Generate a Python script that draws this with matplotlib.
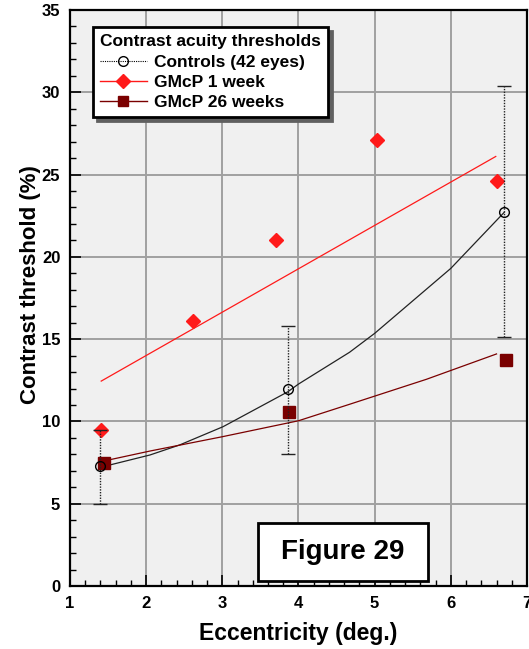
import numpy as np
import matplotlib
matplotlib.use('Agg')
import matplotlib.pyplot as plt
from matplotlib.lines import Line2D
from matplotlib.patches import Rectangle
from matplotlib.ticker import MultipleLocator

plt.rcParams['font.family'] = ['Liberation Sans', 'DejaVu Sans']
plt.rcParams['font.weight'] = 'bold'

# controls (42 eyes): mean and error bar limits
ctrl_x = [1.39, 3.86, 6.70]
ctrl_y = [7.3, 11.95, 22.7]
ctrl_lo = [5.0, 8.0, 15.1]
ctrl_hi = [9.5, 15.8, 30.4]

# GMcP 1 week
wk1_x = [1.41, 2.62, 3.70, 5.03, 6.60]
wk1_y = [9.5, 16.1, 21.0, 27.1, 24.6]

# GMcP 26 weeks
wk26_x = [1.45, 3.87, 6.72]
wk26_y = [7.5, 10.55, 13.75]

# fitted curves
fit_ctrl_x = [1.39, 2.05, 2.44, 3.01, 3.86, 4.0, 4.67, 5.0, 6.0, 6.70]
fit_ctrl_y = [7.2, 7.96, 8.57, 9.68, 11.8, 12.27, 14.2, 15.35, 19.3, 22.7]
fit_wk1_x = [1.41, 6.59]
fit_wk1_y = [12.45, 26.1]
fit_wk26_x = [1.45, 2.05, 3.0, 4.0, 4.67, 5.68, 6.60]
fit_wk26_y = [7.6, 8.2, 9.07, 10.04, 11.04, 12.56, 14.1]

red = '#ff1a1a'
dred = '#7a0000'

fig = plt.figure(figsize=(5.29, 6.49), dpi=100)
ax = fig.add_axes([0.1323, 0.0971, 0.8639, 0.8875])
ax.set_facecolor('#f0f0f0')

ax.set_xlim(1, 7)
ax.set_ylim(0, 35)
ax.xaxis.set_major_locator(MultipleLocator(1))
ax.xaxis.set_minor_locator(MultipleLocator(0.2))
ax.yaxis.set_major_locator(MultipleLocator(5))
ax.yaxis.set_minor_locator(MultipleLocator(1))
ax.grid(True, which='major', color='#a0a0a0', lw=1.4, zorder=0)
ax.set_axisbelow(True)
ax.tick_params(which='major', direction='in', length=8, width=1.2, labelsize=12, pad=7)
ax.tick_params(which='minor', direction='in', length=4, width=1)
for lab in ax.get_xticklabels() + ax.get_yticklabels():
    lab.set_fontweight('bold')
for s in ax.spines.values():
    s.set_linewidth(1.6)
    s.set_color('black')

# fits
ax.plot(fit_ctrl_x, fit_ctrl_y, color='#222222', lw=0.9, zorder=3)
ax.plot(fit_wk1_x, fit_wk1_y, color=red, lw=0.9, zorder=3)
ax.plot(fit_wk26_x, fit_wk26_y, color=dred, lw=0.9, zorder=3)

ax.plot(wk1_x, wk1_y, 'D', color=red, ms=7.5, zorder=4)
ax.plot(wk26_x, wk26_y, 's', color=dred, ms=8, zorder=4)

# controls with error bars (drawn over the other markers)
yerr = [np.array(ctrl_y) - np.array(ctrl_lo), np.array(ctrl_hi) - np.array(ctrl_y)]
eb = ax.errorbar(ctrl_x, ctrl_y, yerr=yerr, fmt='o', mfc='none', mec='black', ms=7,
                 mew=1.0, ecolor='#222222', elinewidth=1.0, capsize=5, capthick=1.3, zorder=5)
eb[2][0].set_linestyle((0, (1, 1)))

ax.set_xlabel('Eccentricity (deg.)', fontsize=16.5, fontweight='bold', labelpad=8)
ax.set_ylabel('Contrast threshold (%)', fontsize=16, fontweight='bold')
ax.yaxis.set_label_coords(-0.063, 0.524)

handles = [
    Line2D([], [], color='black', lw=0.8, ls=(0, (1, 1)), marker='o', mfc='none', mec='black', ms=7),
    Line2D([], [], color=red, lw=1.0, marker='D', ms=7.5),
    Line2D([], [], color=dred, lw=1.0, marker='s', ms=7.5),
]
labels = ['Controls (42 eyes)', 'GMcP 1 week', 'GMcP 26 weeks']
leg = ax.legend(handles, labels, title='Contrast acuity thresholds', loc='upper left',
                bbox_to_anchor=(0.05, 0.97), borderaxespad=0, fancybox=False,
                shadow={'color': '#606060', 'alpha': 1, 'ox': 3, 'oy': -3},
                framealpha=1, edgecolor='black', handlelength=2.7, handletextpad=0.4,
                labelspacing=0.3, borderpad=0.4,
                prop={'size': 12.5, 'weight': 'bold'},
                title_fontproperties={'size': 12.5, 'weight': 'bold'},
                alignment='left')
leg.get_frame().set_linewidth(2)
leg.set_zorder(10)

# "Figure 29" label box
ax.add_patch(Rectangle((0.411, 0.0087), 0.372, 0.1003, transform=ax.transAxes,
                       facecolor='white', edgecolor='black', lw=2, zorder=11, clip_on=False))
ax.text(0.597, 0.059, 'Figure 29', transform=ax.transAxes, ha='center', va='center',
        fontsize=20, fontweight='bold', zorder=12)

fig.savefig('out.png', dpi=100)
